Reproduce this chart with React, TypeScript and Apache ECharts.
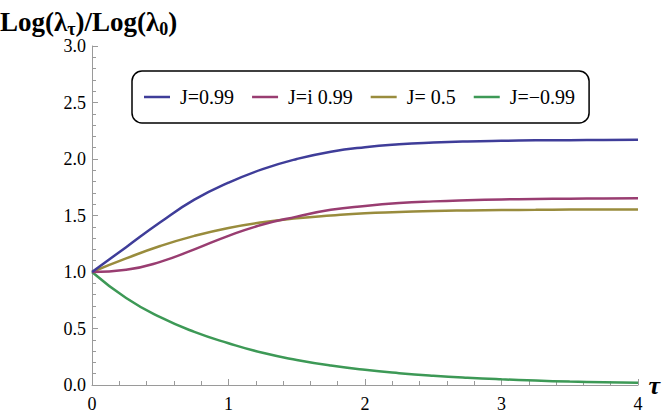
import React, { useEffect, useRef } from "react";
import * as echarts from "echarts";

const tau = [0, 0.25, 0.5, 0.75, 1, 1.25, 1.5, 1.75, 2, 2.25, 2.5, 2.75, 3, 3.25, 3.5, 3.75, 4];
const seriesNames = ["J=0.99", "J=i 0.99", "J= 0.5", "J=\u22120.99"];
const blue = [1.0, 1.22, 1.44, 1.64, 1.79, 1.91, 2.0, 2.065, 2.105, 2.13, 2.145, 2.155, 2.161, 2.165, 2.167, 2.169, 2.17];
const purple = [1.0, 1.02, 1.09, 1.2, 1.32, 1.42, 1.49, 1.55, 1.585, 1.61, 1.625, 1.635, 1.642, 1.646, 1.649, 1.651, 1.652];
const olive = [1.0, 1.12, 1.23, 1.32, 1.39, 1.44, 1.475, 1.5, 1.52, 1.53, 1.54, 1.545, 1.548, 1.55, 1.552, 1.553, 1.554];
const green = [1.0, 0.77, 0.6, 0.47, 0.37, 0.285, 0.222, 0.172, 0.134, 0.105, 0.082, 0.064, 0.05, 0.039, 0.03, 0.024, 0.019];
const colors = ["#3f3d99", "#993d71", "#998c3d", "#3d9956"];
const yTicks = [0, 0.5, 1.0, 1.5, 2.0, 2.5, 3.0];
const xTicks = [0, 1, 2, 3, 4];

const allValues = [blue, purple, olive, green];

export default function App() {
  const ref = useRef<HTMLDivElement>(null);
  useEffect(() => {
    if (!ref.current) return;
    const chart = echarts.init(ref.current, undefined, { renderer: "svg" });
    const serif = "Liberation Serif";
    const regSerif = "Liberation Serif, DejaVu Serif, serif";
    const axisColor = "#9a9a9a";
    chart.setOption({
      animation: false,
      color: colors,
      title: {
        text: "{a|Log(\u03bb}{s|\u03c4}{a|)/Log(\u03bb}{s|0}{a|)}",
        left: 0,
        top: 3,
        padding: 0,
        textStyle: {
          rich: {
            a: { fontFamily: serif, fontWeight: "bold", fontSize: 27, color: "#000", lineHeight: 32, verticalAlign: "bottom" },
            s: { fontFamily: serif, fontWeight: "bold", fontSize: 18, color: "#000", lineHeight: 32, verticalAlign: "bottom", padding: [0, 0, -3, 0] },
          },
        },
      },
      legend: {
        left: 132,
        top: 71,
        orient: "horizontal",
        padding: [15, 14, 15, 12],
        itemGap: 18,
        itemWidth: 26,
        itemHeight: 2.5,
        icon: "rect",
        borderColor: "#000",
        borderWidth: 1.5,
        borderRadius: 10,
        textStyle: { fontFamily: regSerif, fontSize: 20, color: "#000", padding: [0, 0, 0, 5], lineHeight: 22 },
        data: seriesNames,
      },
      grid: { left: 92, right: 26, top: 46, bottom: 30, containLabel: false },
      xAxis: {
        type: "value",
        min: xTicks[0],
        max: xTicks[xTicks.length - 1],
        interval: 1,
        name: "\u03c4",
        nameLocation: "end",
        nameGap: 6,
        nameTextStyle: { fontFamily: serif, fontSize: 26, fontWeight: "bold", fontStyle: "italic", color: "#000", verticalAlign: "middle" },
        axisLine: { show: true, onZero: false, lineStyle: { color: axisColor, width: 1 } },
        axisTick: { show: true, inside: true, length: 6, lineStyle: { color: axisColor } },
        minorTick: { show: true, splitNumber: 5, length: 4, lineStyle: { color: axisColor } },
        axisLabel: { fontFamily: regSerif, fontSize: 18, color: "#000", margin: 10 },
        splitLine: { show: false },
      },
      yAxis: {
        type: "value",
        min: yTicks[0],
        max: yTicks[yTicks.length - 1],
        interval: 0.5,
        axisLine: { show: true, lineStyle: { color: axisColor, width: 1 } },
        axisTick: { show: true, inside: true, length: 6, lineStyle: { color: axisColor } },
        minorTick: { show: true, splitNumber: 5, length: 4, lineStyle: { color: axisColor } },
        axisLabel: { fontFamily: regSerif, fontSize: 18, color: "#000", margin: 6, formatter: (v: number) => v.toFixed(1) },
        splitLine: { show: false },
      },
      series: allValues.map((vals, i) => ({
        name: seriesNames[i],
        type: "line",
        smooth: 0.5,
        symbol: "none",
        showSymbol: false,
        lineStyle: { width: 2.5, color: colors[i] },
        itemStyle: { color: colors[i] },
        data: tau.map((t, k) => [t, vals[k]]),
        z: 4 - i,
      })),
    });
    return () => chart.dispose();
  }, []);
  return <div ref={ref} style={{ width: 664, height: 415, position: "absolute", left: 0, top: 0 }} />;
}
